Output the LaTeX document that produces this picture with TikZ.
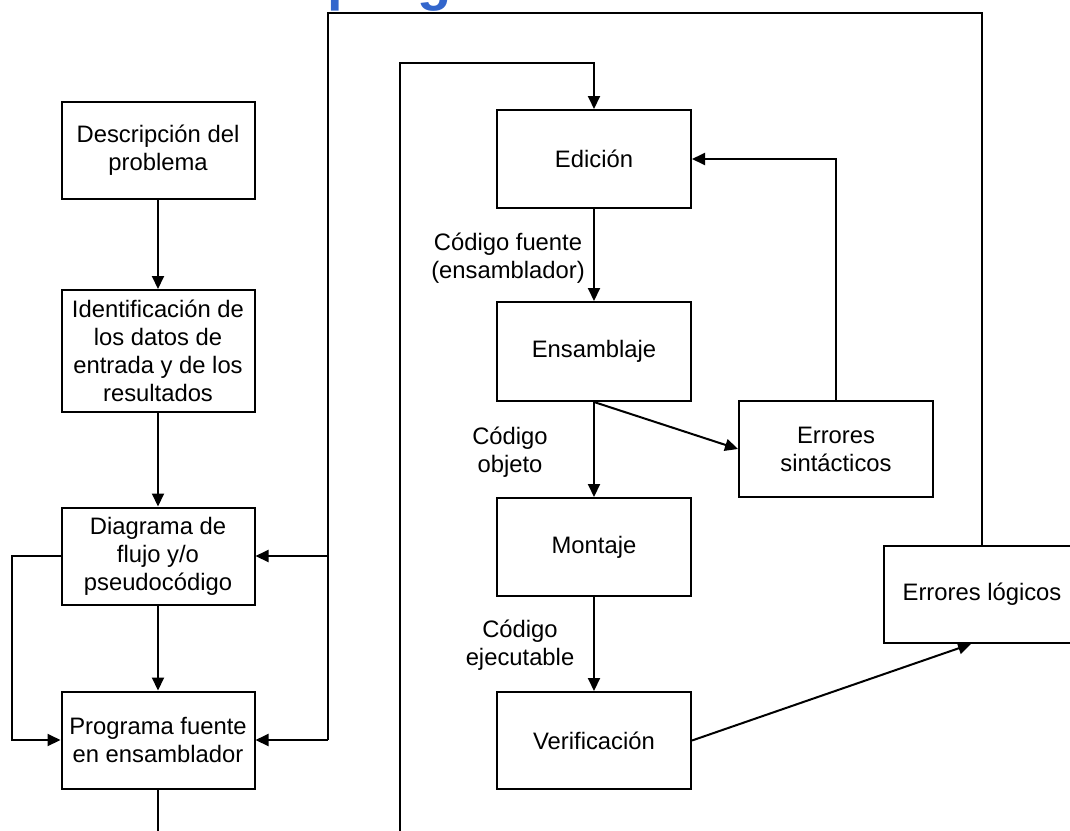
\documentclass[tikz,border=0pt]{standalone}
\usepackage{fontspec}
\setmainfont{Liberation Sans}
\usetikzlibrary{arrows.meta}
\definecolor{titleblue}{RGB}{51,102,204}
\begin{document}
\begin{tikzpicture}[x=1pt,y=-1pt,
  box/.style={draw,line width=2pt,align=center,inner sep=0pt,
    font=\fontsize{23.8}{28}\selectfont},
  lbl/.style={align=center,font=\fontsize{23.8}{28}\selectfont,inner sep=0pt},
  conn/.style={line width=2pt},
  arr/.style={line width=2pt,-{Triangle[length=13pt,width=12pt]}}]
\useasboundingbox (0,0) rectangle (1070,830);
\clip (0,0) rectangle (1070,830);
% clipped title
\node[anchor=base west,inner sep=0pt,text=titleblue,font=\fontsize{56}{60}\selectfont\bfseries] (title) at (327,-1) {programación};
% left column
\node[box,minimum width=193pt,minimum height=97pt] (desc) at (158,150) {Descripción del\\problema};
\node[box,minimum width=193pt,minimum height=122pt] (ident) at (158,351) {Identificación de\\los datos de\\entrada y de los\\resultados};
\node[box,minimum width=193pt,minimum height=97pt] (diag) at (158,556) {Diagrama de\\flujo y/o\\pseudocódigo};
\node[box,minimum width=193pt,minimum height=97pt] (prog) at (158,740) {Programa fuente\\en ensamblador};
% right column
\node[box,minimum width=194pt,minimum height=98pt] (edic) at (594,159) {Edición};
\node[box,minimum width=194pt,minimum height=99pt] (ensa) at (594,351.5) {Ensamblaje};
\node[box,minimum width=194pt,minimum height=98pt] (mont) at (594,547) {Montaje};
\node[box,minimum width=194pt,minimum height=97pt] (veri) at (594,740.5) {Verificación};
\node[box,minimum width=194pt,minimum height=96pt] (esin) at (836,449) {Errores\\sintácticos};
\node[box,minimum width=196pt,minimum height=97pt] (elog) at (982,594.5) {Errores lógicos};
% labels
\node[lbl] (l1) at (508,258) {Código fuente\\(ensamblador)};
\node[lbl] (l2) at (510,452) {Código\\objeto};
\node[lbl] (l3) at (520,645) {Código\\ejecutable};
% coordinates
\coordinate (ltop) at (328,13);
\coordinate (rtop) at (982,13);
\coordinate (lloopa) at (12,556);
\coordinate (lloopb) at (12,740);
\coordinate (vb) at (400,840);
\coordinate (vt) at (400,63);
\coordinate (et) at (594,63);
\coordinate (pb) at (158,840);
% left column arrows
\draw[arr] (desc.south) -- (ident.north);
\draw[arr] (ident.south) -- (diag.north);
\draw[arr] (diag.south) -- (prog.north);
\draw[conn] (prog.south) -- (pb);
\draw[arr] (diag.west) -- (lloopa) -- (lloopb) -- (prog.west);
% big feedback loop
\draw[conn] (elog.north -| rtop) -- (rtop) -- (ltop) -- (ltop |- prog.east);
\draw[arr] (ltop |- diag.east) -- (diag.east);
\draw[arr] (ltop |- prog.east) -- (prog.east);
% loop to edition
\draw[arr] (vb) -- (vt) -- (et) -- (edic.north);
% right column arrows
\draw[arr] (edic.south) -- (ensa.north);
\draw[arr] (ensa.south) -- (mont.north);
\draw[arr] (mont.south) -- (veri.north);
\draw[arr] (ensa.south) -- (esin.west);
\draw[arr] (esin.north) -- (esin.north |- edic.east) -- (edic.east);
\draw[arr] (veri.east) -- ([xshift=-11pt]elog.south);
\end{tikzpicture}
\end{document}
